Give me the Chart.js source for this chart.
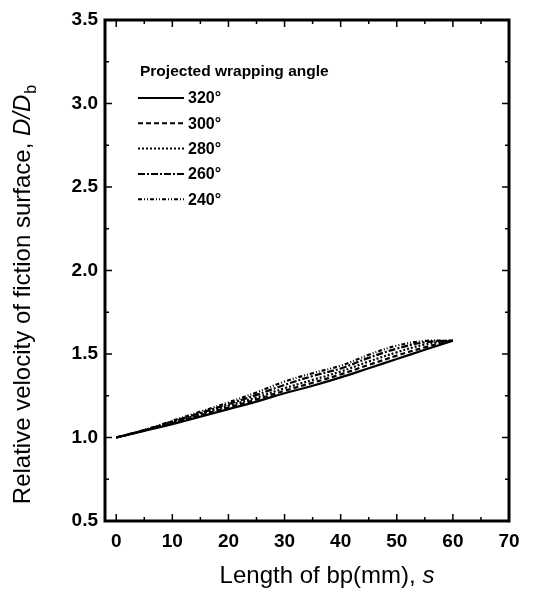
<!DOCTYPE html>
<html>
<head>
	<title>Relative velocity vs length of bp</title>
	<script src="https://cdn.jsdelivr.net/npm/chart.js"></script>
	<style>
		html, body { margin: 0; padding: 0; background: #fff; }
		.chart-container { width: 537px; height: 589px; }
	</style>
</head>
<body>
	<div class="chart-container">
		<canvas id="myChart" width="537" height="589"></canvas>
	</div>
	<script>
		// data
		const lengths = [0, 5, 10, 15, 20, 25, 30, 35, 40, 45, 50, 55, 60];
		const angles = ['320\u00b0', '300\u00b0', '280\u00b0', '260\u00b0', '240\u00b0'];
		const v320 = [1.0, 1.040, 1.080, 1.125, 1.170, 1.215, 1.265, 1.310, 1.360, 1.415, 1.470, 1.525, 1.58];
		const v300 = [1.0, 1.042, 1.087, 1.133, 1.180, 1.228, 1.280, 1.328, 1.378, 1.435, 1.490, 1.540, 1.58];
		const v280 = [1.0, 1.043, 1.091, 1.140, 1.190, 1.240, 1.295, 1.345, 1.395, 1.455, 1.510, 1.557, 1.58];
		const v260 = [1.0, 1.044, 1.095, 1.147, 1.200, 1.255, 1.315, 1.368, 1.413, 1.477, 1.532, 1.570, 1.58];
		const v240 = [1.0, 1.045, 1.100, 1.155, 1.210, 1.270, 1.335, 1.385, 1.430, 1.495, 1.550, 1.578, 1.58];
		const yTicks = [0.5, 1.0, 1.5, 2.0, 2.5, 3.0, 3.5];
		const xTicks = [0, 10, 20, 30, 40, 50, 60, 70];

		const series = [v320, v300, v280, v260, v240];
		const dashes = [[], [5, 3], [2, 2], [7, 2, 2, 2], [4, 2, 1, 2, 1, 2]];
		const FONT = '"Liberation Sans", Arial, sans-serif';

		const datasets = series.map((vals, i) => ({
			label: angles[i],
			data: lengths.map((x, j) => ({x: x, y: vals[j]})),
			borderColor: '#000',
			borderWidth: 2.2,
			borderDash: dashes[i],
			pointRadius: 0,
			tension: 0.4,
			fill: false
		}));

		// frame, inward ticks, axis titles and legend
		const decor = {
			id: 'decor',
			afterDraw(chart) {
				const c = chart.ctx;
				const a = chart.chartArea;
				const xs = chart.scales.x, ys = chart.scales.y;
				c.save();
				c.strokeStyle = '#000';
				c.lineWidth = 1.5;
				// minor + major ticks, pointing inwards
				for (let v = 0; v <= 70; v += 5) {
					const px = xs.getPixelForValue(v);
					const len = v % 10 === 0 ? 7 : 4;
					c.beginPath();
					c.moveTo(px, a.bottom); c.lineTo(px, a.bottom - len);
					c.moveTo(px, a.top); c.lineTo(px, a.top + len);
					c.stroke();
				}
				for (let v = 0.5; v <= 3.5; v += 0.25) {
					const py = ys.getPixelForValue(v);
					const len = Math.abs(v * 2 - Math.round(v * 2)) < 0.01 ? 7 : 4;
					c.beginPath();
					c.moveTo(a.left, py); c.lineTo(a.left + len, py);
					c.moveTo(a.right, py); c.lineTo(a.right - len, py);
					c.stroke();
				}
				// frame
				c.lineWidth = 3;
				c.strokeRect(a.left, a.top, a.right - a.left, a.bottom - a.top);

				// x title
				c.fillStyle = '#000';
				c.textBaseline = 'alphabetic';
				const f1 = '24px ' + FONT;
				const f1i = 'italic 24px ' + FONT;
				const t1 = 'Length of bp(mm), ';
				c.font = f1; const w1 = c.measureText(t1).width;
				c.font = f1i; const w2 = c.measureText('s').width;
				const sx = 327 - (w1 + w2) / 2;
				c.font = f1; c.fillText(t1, sx, 583);
				c.font = f1i; c.fillText('s', sx + w1, 583);

				// y title, rotated
				c.translate(30, 295);
				c.rotate(-Math.PI / 2);
				const p1 = 'Relative velocity of fiction surface, ';
				const fs = '16px ' + FONT;
				c.font = f1; const a1 = c.measureText(p1).width;
				c.font = f1i; const a2 = c.measureText('D/D').width;
				c.font = fs; const a3 = c.measureText('b').width;
				const tx = -(a1 + a2 + a3) / 2;
				c.font = f1; c.fillText(p1, tx, 0);
				c.font = f1i; c.fillText('D/D', tx + a1, 0);
				c.font = fs; c.fillText('b', tx + a1 + a2 + 1, 6);
				c.setTransform(1, 0, 0, 1, 0, 0);

				// legend
				c.font = 'bold 15.5px ' + FONT;
				c.fillText('Projected wrapping angle', 140, 76);
				chart.data.datasets.forEach((ds, i) => {
					const y = 98 + i * 25.3;
					c.beginPath();
					c.setLineDash(ds.borderDash);
					c.lineWidth = 2;
					c.moveTo(138, y); c.lineTo(184, y);
					c.stroke();
					c.setLineDash([]);
					c.font = 'bold 16px ' + FONT;
					c.textBaseline = 'middle';
					c.fillText(ds.label, 188, y + 1);
					c.textBaseline = 'alphabetic';
				});
				c.restore();
			}
		};

		const ctx = document.getElementById('myChart').getContext('2d');
		const myChart = new Chart(ctx, {
			type: 'line',
			data: { datasets: datasets },
			plugins: [decor],
			options: {
				responsive: false,
				animation: false,
				layout: { padding: { top: 20, right: 28, left: 0, bottom: 0 } },
				plugins: { legend: { display: false }, tooltip: { enabled: false } },
				scales: {
					x: {
						type: 'linear',
						min: -2, max: 70,
						afterBuildTicks: s => { s.ticks = xTicks.map(v => ({value: v})); },
						afterFit: s => { s.height = 68; },
						grid: { display: false, drawTicks: false },
						border: { display: false },
						ticks: {
							color: '#000',
							padding: 9,
							font: { family: FONT, size: 19, weight: 'bold' }
						}
					},
					y: {
						min: 0.5, max: 3.5,
						afterBuildTicks: s => { s.ticks = yTicks.map(v => ({value: v})); },
						afterFit: s => { s.width = 105; },
						grid: { display: false, drawTicks: false },
						border: { display: false },
						ticks: {
							color: '#000',
							padding: 7,
							callback: v => v.toFixed(1),
							font: { family: FONT, size: 19, weight: 'bold' }
						}
					}
				}
			}
		});
	</script>
</body>
</html>
